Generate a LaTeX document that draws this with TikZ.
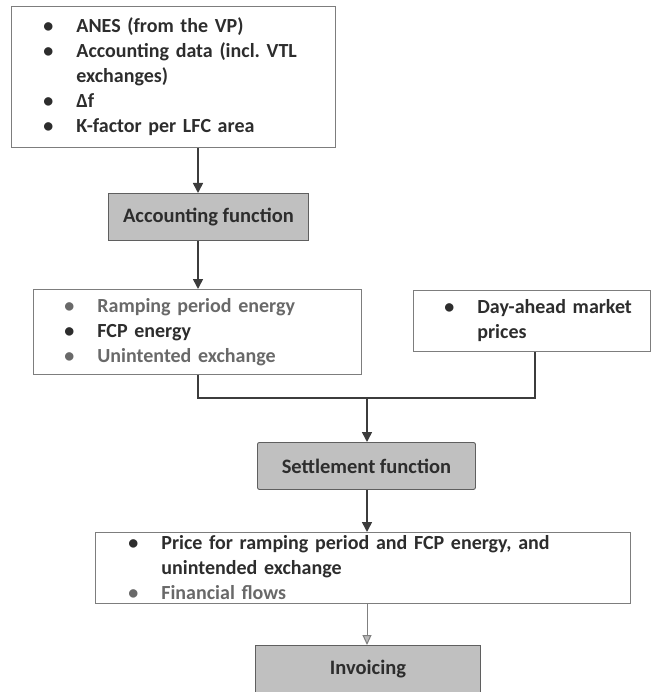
\documentclass[tikz,border=0pt]{standalone}
\usepackage{fontspec}
\setmainfont{Carlito}
\usetikzlibrary{arrows.meta, positioning}
\definecolor{textdark}{RGB}{45,45,45}
\definecolor{textlight}{RGB}{105,105,105}
\definecolor{funcfill}{RGB}{192,192,192}
\definecolor{funcline}{RGB}{95,95,95}
\definecolor{boxline}{RGB}{125,125,125}
\definecolor{arrowcolor}{RGB}{60,60,60}
\frenchspacing
\newcommand{\bul}[1]{\mbox{\makebox[33pt][l]{\textbullet}#1}}
\newcommand{\cont}[1]{\mbox{\hspace*{33pt}#1}}

\begin{document}
\begin{tikzpicture}[
    x=1pt, y=-1pt,
    listbox/.style={draw=boxline, line width=0.8pt, anchor=north west, align=left, inner ysep=0pt,
        font=\fontsize{20}{25}\selectfont\bfseries, text=textdark},
    funcbox/.style={draw=funcline, fill=funcfill, line width=0.9pt, anchor=north west, minimum height=47pt,
        font=\fontsize{20.5}{22}\selectfont\bfseries, text=textdark},
    arrow/.style={-{Triangle[length=10pt, width=10pt]}, line width=1.6pt, draw=arrowcolor},
    link/.style={line width=1.6pt, draw=arrowcolor},
    thinarrow/.style={-{Triangle[length=10pt, width=9pt, fill=gray!55]}, line width=1pt, draw=gray}
]
    \useasboundingbox (0,0) rectangle (652,692);

    % inputs of the accounting function
    \node[listbox, inner xsep=32pt, text width=260pt, minimum height=141pt] (inputs) at (11,6)
        {\bul{ANES (from the VP)}\\ \bul{Accounting data (incl. VTL}\\ \cont{exchanges)}\\ \bul{Δf}\\ \bul{K-factor per LFC area}};
    \node[funcbox, minimum width=200pt] (accounting) at (108,193) {Accounting function};

    % results and prices
    \node[listbox, inner xsep=31pt, text width=266pt, minimum height=85pt] (energy) at (33,289)
        {\textcolor{textlight}{\bul{Ramping period energy}}\\ \bul{FCP energy}\\ \textcolor{textlight}{\bul{Unintented exchange}}};
    \node[listbox, inner xsep=31pt, text width=175pt, minimum height=61pt] (prices) at (413,290)
        {\bul{Day-ahead market}\\ \cont{prices}};

    \node[funcbox, minimum width=218pt, rounded corners=2pt] (settlement) at (257,442) {Settlement function};

    \node[listbox, inner xsep=33pt, text width=469pt, minimum height=71pt] (flows) at (95,532)
        {\bul{Price for ramping period and FCP energy, and}\\ \cont{unintended exchange}\\ \textcolor{textlight}{\bul{Financial flows}}};

    \node[funcbox, minimum width=225pt] (invoicing) at (255,645) {Invoicing};

    \coordinate (col1) at (198,0);
    \coordinate (col2) at (535,0);
    \coordinate (join) at (367,398);

    \draw[arrow] (inputs.south -| col1) -- (accounting.north -| col1);
    \draw[arrow] (accounting.south -| col1) -- (energy.north -| col1);
    \draw[link] (energy.south -| col1) |- (join) -| (prices.south -| col2);
    \draw[arrow] (join) -- (settlement.north -| join);
    \draw[arrow] (settlement.south -| join) -- (flows.north -| join);
    \draw[thinarrow] (flows.south -| join) -- (invoicing.north -| join);
\end{tikzpicture}
\end{document}
